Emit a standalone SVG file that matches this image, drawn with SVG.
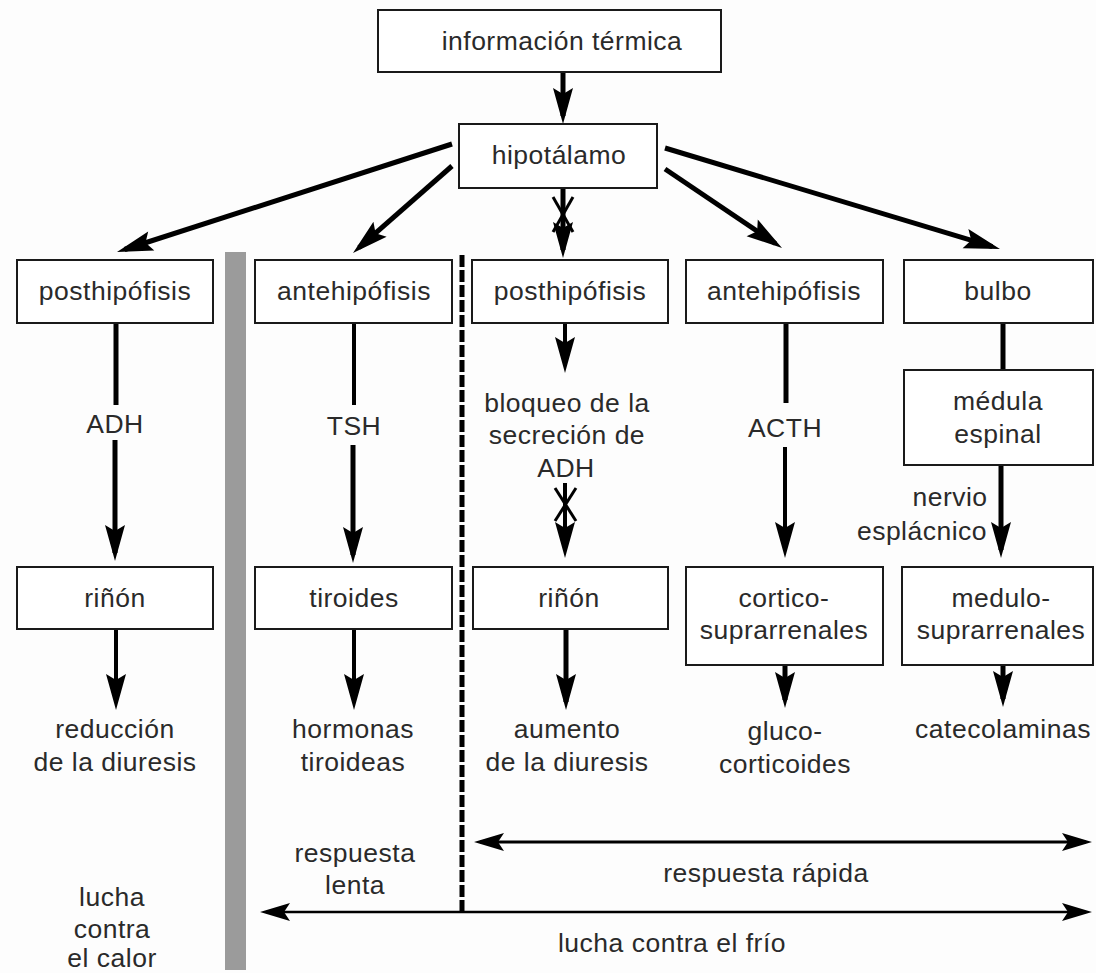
<svg xmlns="http://www.w3.org/2000/svg" width="1096" height="973" viewBox="0 0 1096 973">
  <style>
    .box { fill: #ffffff; stroke: #1a1a1a; stroke-width: 2; }
    .t { font-family: "Liberation Sans", Arial, sans-serif; font-size: 26.5px; letter-spacing: 0.5px; fill: #2a2a2a; text-anchor: middle; }
    .ln { stroke: #000; stroke-width: 5; fill: none; }
    .thin { stroke-width: 4; }
    .x { stroke: #000; stroke-width: 3; fill: none; }
  </style>
  <defs>
    <!-- notched arrowhead; the tip sits 8px beyond the line end -->
    <marker id="ah" markerUnits="userSpaceOnUse" markerWidth="42" markerHeight="24" refX="32" refY="12" orient="auto">
      <path d="M40,12 L4,2 L10,12 L4,22 Z" fill="#000"/>
    </marker>
    <!-- heads for the double-ended span arrows -->
    <marker id="ah2" markerUnits="userSpaceOnUse" markerWidth="34" markerHeight="22" refX="26" refY="11" orient="auto-start-reverse">
      <path d="M32,11 L2,2 L8,11 L2,20 Z" fill="#000"/>
    </marker>
  </defs>

  <rect width="1096" height="973" fill="#fdfdfd"/>

  <!-- separator bar and dashed divider -->
  <rect x="225" y="252" width="21" height="718" fill="#9b9b9b"/>
  <line x1="462" y1="255" x2="462" y2="912" stroke="#000" stroke-width="5" stroke-dasharray="12 3"/>

  <g id="connectors">
    <line class="ln" x1="563" y1="72" x2="563" y2="116" marker-end="url(#ah)"/>
    <line class="ln" x1="452" y1="144" x2="124.6" y2="249.5" marker-end="url(#ah)"/>
    <line class="ln" x1="452" y1="166" x2="359" y2="247.7" marker-end="url(#ah)"/>
    <line class="ln" x1="563" y1="188" x2="563" y2="250" marker-end="url(#ah)"/>
    <line class="x" x1="553" y1="197" x2="573" y2="232"/>
    <line class="x" x1="573" y1="197" x2="553" y2="232"/>
    <line class="ln" x1="665" y1="169" x2="775.4" y2="243.5" marker-end="url(#ah)"/>
    <line class="ln" x1="665" y1="148" x2="992.3" y2="246.7" marker-end="url(#ah)"/>

    <!-- column 1 -->
    <line class="ln" x1="116" y1="323" x2="116" y2="405"/>
    <line class="ln" x1="115" y1="440" x2="115" y2="553" marker-end="url(#ah)"/>
    <line class="ln thin" x1="116" y1="629" x2="116" y2="702" marker-end="url(#ah)"/>

    <!-- column 2 -->
    <line class="ln thin" x1="354" y1="323" x2="354" y2="405"/>
    <line class="ln" x1="353" y1="445" x2="353" y2="555" marker-end="url(#ah)"/>
    <line class="ln thin" x1="354" y1="629" x2="354" y2="702" marker-end="url(#ah)"/>

    <!-- column 3 -->
    <line class="ln thin" x1="565" y1="323" x2="565" y2="365" marker-end="url(#ah)"/>
    <line class="ln thin" x1="565" y1="483" x2="565" y2="550" marker-end="url(#ah)"/>
    <line class="x" x1="555" y1="488" x2="576" y2="521"/>
    <line class="x" x1="576" y1="488" x2="555" y2="521"/>
    <line class="ln" x1="566" y1="629" x2="566" y2="702" marker-end="url(#ah)"/>

    <!-- column 4 -->
    <line class="ln" x1="786" y1="323" x2="786" y2="403"/>
    <line class="ln thin" x1="785" y1="447" x2="785" y2="550" marker-end="url(#ah)"/>
    <line class="ln" x1="785" y1="665" x2="785" y2="700" marker-end="url(#ah)"/>

    <!-- column 5 -->
    <line class="ln" x1="1003" y1="323" x2="1003" y2="370"/>
    <line class="ln" x1="1001" y1="465" x2="1001" y2="550" marker-end="url(#ah)"/>
    <line class="ln" x1="1003" y1="665" x2="1003" y2="699" marker-end="url(#ah)"/>

    <!-- response spans -->
    <line x1="480" y1="842" x2="1086" y2="842" stroke="#000" stroke-width="3" marker-start="url(#ah2)" marker-end="url(#ah2)"/>
    <line x1="266" y1="912" x2="1086" y2="912" stroke="#000" stroke-width="2.5" marker-start="url(#ah2)" marker-end="url(#ah2)"/>
  </g>

  <g id="n-info"><rect class="box" x="378" y="10" width="343" height="62"/><text class="t" x="562" y="50">información térmica</text></g>
  <g id="n-hipotalamo"><rect class="box" x="459" y="124" width="198" height="64"/><text class="t" x="559" y="164">hipotálamo</text></g>

  <g id="n-posthipofisis1"><rect class="box" x="17" y="260" width="196" height="63"/><text class="t" x="115" y="300">posthipófisis</text></g>
  <g id="n-antehipofisis1"><rect class="box" x="255" y="260" width="197" height="63"/><text class="t" x="354" y="300">antehipófisis</text></g>
  <g id="n-posthipofisis2"><rect class="box" x="472" y="260" width="196" height="63"/><text class="t" x="570" y="300">posthipófisis</text></g>
  <g id="n-antehipofisis2"><rect class="box" x="686" y="260" width="197" height="63"/><text class="t" x="784" y="300">antehipófisis</text></g>
  <g id="n-bulbo"><rect class="box" x="904" y="260" width="189" height="63"/><text class="t" x="998" y="300">bulbo</text></g>

  <g id="l-adh1"><text class="t" x="115" y="433">ADH</text></g>
  <g id="l-tsh"><text class="t" x="354" y="435">TSH</text></g>
  <g id="l-bloqueo"><text class="t" x="567" y="412">bloqueo de la</text><text class="t" x="567" y="444">secreción de</text><text class="t" x="566" y="477">ADH</text></g>
  <g id="l-acth"><text class="t" x="785" y="437">ACTH</text></g>
  <g id="n-medula"><rect class="box" x="904" y="370" width="189" height="95"/><text class="t" x="998" y="410">médula</text><text class="t" x="998" y="443">espinal</text></g>
  <g id="l-nervio"><text class="t" x="950" y="506">nervio</text><text class="t" x="922" y="540">esplácnico</text></g>

  <g id="n-rinon1"><rect class="box" x="17" y="567" width="196" height="62"/><text class="t" x="115" y="607">riñón</text></g>
  <g id="n-tiroides"><rect class="box" x="255" y="567" width="197" height="62"/><text class="t" x="354" y="607">tiroides</text></g>
  <g id="n-rinon2"><rect class="box" x="473" y="567" width="195" height="62"/><text class="t" x="569" y="607">riñón</text></g>
  <g id="n-cortico"><rect class="box" x="686" y="567" width="197" height="98"/><text class="t" x="784" y="607">cortico-</text><text class="t" x="784" y="639">suprarrenales</text></g>
  <g id="n-medulo"><rect class="box" x="902" y="567" width="191" height="98"/><text class="t" x="1001" y="607">medulo-</text><text class="t" x="1001" y="639">suprarrenales</text></g>

  <g id="l-reduccion"><text class="t" x="115" y="738">reducción</text><text class="t" x="115" y="771">de la diuresis</text></g>
  <g id="l-hormonas"><text class="t" x="353" y="738">hormonas</text><text class="t" x="353" y="771">tiroideas</text></g>
  <g id="l-aumento"><text class="t" x="567" y="738">aumento</text><text class="t" x="567" y="771">de la diuresis</text></g>
  <g id="l-gluco"><text class="t" x="785" y="740">gluco-</text><text class="t" x="785" y="773">corticoides</text></g>
  <g id="l-catecolaminas"><text class="t" x="1003" y="738">catecolaminas</text></g>

  <g id="l-lenta"><text class="t" x="355" y="862">respuesta</text><text class="t" x="355" y="894">lenta</text></g>
  <g id="l-rapida"><text class="t" x="766" y="882">respuesta rápida</text></g>
  <g id="l-frio"><text class="t" x="672" y="952">lucha contra el frío</text></g>
  <g id="l-calor"><text class="t" x="112" y="906">lucha</text><text class="t" x="112" y="938">contra</text><text class="t" x="112" y="967">el calor</text></g>
</svg>
